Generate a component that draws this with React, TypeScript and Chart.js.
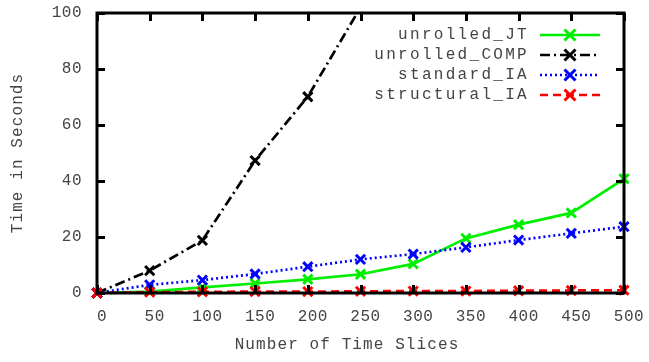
import React, { useEffect, useRef } from "react";
import { Chart, registerables } from "chart.js";

Chart.register(...registerables);

const timeSlices = [0, 50, 100, 150, 200, 250, 300, 350, 400, 450, 500];
const unrolledJT = [0, 0.5, 2.0, 3.4, 4.9, 6.7, 10.4, 19.5, 24.4, 28.6, 40.8];
const unrolledCOMP = [0, 8.0, 18.8, 47.3, 70.1, 102, null, null, null, null, null];
const standardIA = [0, 2.9, 4.6, 6.8, 9.4, 12.0, 13.9, 16.3, 18.9, 21.3, 23.7];
const structuralIA = [0, 0.3, 0.4, 0.5, 0.5, 0.6, 0.7, 0.7, 0.8, 0.9, 1.0];

const xTicks = [0, 50, 100, 150, 200, 250, 300, 350, 400, 450, 500];
const yTicks = [0, 20, 40, 60, 80, 100];

const seriesNames = ["unrolled_JT", "unrolled_COMP", "standard_IA", "structural_IA"];
const seriesColors = ["#00ee00", "#000000", "#0000ff", "#ff0000"];
const seriesDashes: number[][] = [[], [10, 4, 2, 4], [2, 3], [8, 5]];

const FONT = '"Liberation Mono", "DejaVu Sans Mono", monospace';

const framePlugin = {
  id: "gnuplotFrame",
  afterDatasetsDraw(chart: any) {
    const ctx = chart.ctx as CanvasRenderingContext2D;
    const { left, right, top, bottom } = chart.chartArea;
    const xs = chart.scales.x;
    const ys = chart.scales.y;
    ctx.save();
    ctx.strokeStyle = "#000";
    ctx.lineWidth = 3;
    ctx.setLineDash([]);
    ctx.lineCap = "butt";
    const tl = 8;
    ctx.beginPath();
    xTicks.forEach((v) => {
      const px = Math.round(xs.getPixelForValue(v)) + 0.5;
      ctx.moveTo(px, bottom);
      ctx.lineTo(px, bottom - tl);
      ctx.moveTo(px, top);
      ctx.lineTo(px, top + tl);
    });
    yTicks.forEach((v) => {
      const py = Math.round(ys.getPixelForValue(v)) + 0.5;
      ctx.moveTo(left, py);
      ctx.lineTo(left + tl, py);
      ctx.moveTo(right, py);
      ctx.lineTo(right - tl, py);
    });
    ctx.stroke();
    ctx.strokeRect(left, top, right - left, bottom - top);

    ctx.fillStyle = "#444444";
    ctx.font = `16px ${FONT}`;
    (ctx as any).letterSpacing = "0.5px";
    ctx.textBaseline = "middle";
    ctx.textAlign = "center";
    xTicks.forEach((v) => {
      const px = xs.getPixelForValue(v) + 5;
      ctx.fillText(String(v), px, bottom + 24);
    });
    ctx.textAlign = "right";
    yTicks.forEach((v) => {
      const py = ys.getPixelForValue(v);
      ctx.fillText(String(v), left - 15, py);
    });

    ctx.font = `16px ${FONT}`;
    (ctx as any).letterSpacing = "1.1px";
    ctx.textAlign = "center";
    ctx.fillText("Number of Time Slices", 347, 345);
    ctx.save();
    ctx.translate(18, 153);
    ctx.rotate(-Math.PI / 2);
    ctx.fillText("Time in Seconds", 0, 0);
    ctx.restore();

    ctx.font = `16px ${FONT}`;
    (ctx as any).letterSpacing = "2.3px";
    ctx.textAlign = "right";
    const rows = [35, 55, 75, 95];
    seriesNames.forEach((name, i) => {
      const y = rows[i];
      ctx.fillStyle = "#444444";
      ctx.fillText(name, 529, y);
      ctx.strokeStyle = seriesColors[i];
      ctx.lineWidth = 2.5;
      ctx.setLineDash(seriesDashes[i]);
      ctx.beginPath();
      ctx.moveTo(540, y);
      ctx.lineTo(600, y);
      ctx.stroke();
      ctx.setLineDash([]);
      ctx.lineWidth = 3;
      const r = 5.5;
      ctx.beginPath();
      ctx.moveTo(570 - r, y - r);
      ctx.lineTo(570 + r, y + r);
      ctx.moveTo(570 - r, y + r);
      ctx.lineTo(570 + r, y - r);
      ctx.stroke();
    });
    ctx.restore();
  },
};

export default function App() {
  const ref = useRef<HTMLCanvasElement | null>(null);
  useEffect(() => {
    if (!ref.current) return;
    const seriesData = [unrolledJT, unrolledCOMP, standardIA, structuralIA];
    const chart = new Chart(ref.current, {
      type: "line",
      data: {
        labels: timeSlices,
        datasets: seriesData.map((d, i) => ({
          label: seriesNames[i],
          data: timeSlices.map((x, j) => ({ x, y: d[j] })),
          borderColor: seriesColors[i],
          backgroundColor: seriesColors[i],
          borderWidth: 2.7,
          borderDash: seriesDashes[i],
          pointStyle: "crossRot",
          pointRadius: 6.5,
          pointBorderWidth: 3,
          pointBorderColor: seriesColors[i],
          tension: 0,
          fill: false,
          spanGaps: false,
          order: 4 - i,
          clip: i === 1 ? { left: false, right: false, top: 0, bottom: false } : false,
        })) as any,
      },
      options: {
        animation: false,
        responsive: false,
        maintainAspectRatio: false,
        layout: { padding: { left: 97, right: 25, top: 13, bottom: 69 } },
        plugins: { legend: { display: false }, tooltip: { enabled: false } },
        scales: {
          x: { type: "linear", min: 0, max: 500, display: false },
          y: { type: "linear", min: 0, max: 100, display: false },
        },
      },
      plugins: [framePlugin],
    });
    return () => chart.destroy();
  }, []);
  return (
    <div style={{ position: "fixed", left: 0, top: 0, width: 649, height: 362, background: "#fff" }}>
      <canvas ref={ref} width={649} height={362} style={{ width: 649, height: 362 }} />
    </div>
  );
}
